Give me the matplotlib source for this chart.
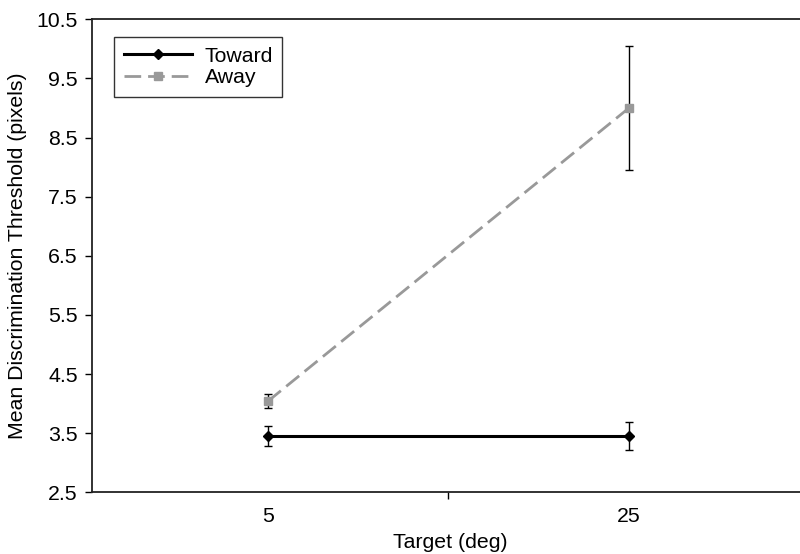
import matplotlib
matplotlib.use('Agg')
import matplotlib.pyplot as plt
from matplotlib.ticker import FixedLocator

plt.rcParams['font.family'] = ['Liberation Sans', 'DejaVu Sans']

# category labels and series values
targets = ['5', '25']
toward_mean = [3.45, 3.45]
toward_err = [0.17, 0.24]
away_mean = [4.04, 9.00]
away_err = [0.12, 1.05]

y_ticks = [2.5, 3.5, 4.5, 5.5, 6.5, 7.5, 8.5, 9.5, 10.5]

FS = 15.3

fig = plt.figure(figsize=(8, 5.54), dpi=100)
ax = fig.add_axes([91.7 / 800, 1 - 492.3 / 554,
                   (809.5 - 91.7) / 800, (492.3 - 19.3) / 554])

xs = list(range(len(targets)))

ax.errorbar(xs, toward_mean, yerr=toward_err, fmt='none', ecolor='black',
            elinewidth=1.0, capsize=2.6, capthick=1.0, zorder=2)
ax.errorbar(xs, away_mean, yerr=away_err, fmt='none', ecolor='black',
            elinewidth=1.0, capsize=2.6, capthick=1.0, zorder=2)

ax.plot(xs, toward_mean, color='black', linewidth=2.2, marker='D',
        markersize=5, label='Toward', zorder=3)
ax.plot(xs, away_mean, color='#999999', linewidth=2.0, dashes=(6, 2.5),
        marker='s', markersize=6, label='Away', zorder=3)

ax.set_xlim(-0.488, 1.5)
ax.set_ylim(2.5, 10.5)
ax.set_yticks(y_ticks)
ax.set_yticklabels([f'{v:.1f}' for v in y_ticks])
ax.set_xticks(xs)
ax.set_xticklabels(targets)
ax.xaxis.set_minor_locator(FixedLocator([-0.5, 0.5, 1.5]))

ax.tick_params(axis='x', which='major', length=0, pad=10.5, labelsize=FS)
ax.tick_params(axis='x', which='minor', length=5, width=1, direction='out')
ax.tick_params(axis='y', which='major', length=5, width=1, direction='out',
               pad=5, labelsize=FS)

for sp in ax.spines.values():
    sp.set_color('#222222')
    sp.set_linewidth(1.3)

ax.set_xlabel('Target (deg)', fontsize=FS, labelpad=5)
ax.set_ylabel('Mean Discrimination Threshold (pixels)', fontsize=FS, labelpad=7)

leg = ax.legend(loc='upper left', bbox_to_anchor=(0.0313, 0.962),
                fontsize=FS, frameon=True, fancybox=False, edgecolor='black',
                handlelength=3.2, handletextpad=0.6, labelspacing=0.1,
                borderpad=0.45, borderaxespad=0)
leg.get_frame().set_linewidth(1.0)

fig.savefig('out.png', dpi=100)
